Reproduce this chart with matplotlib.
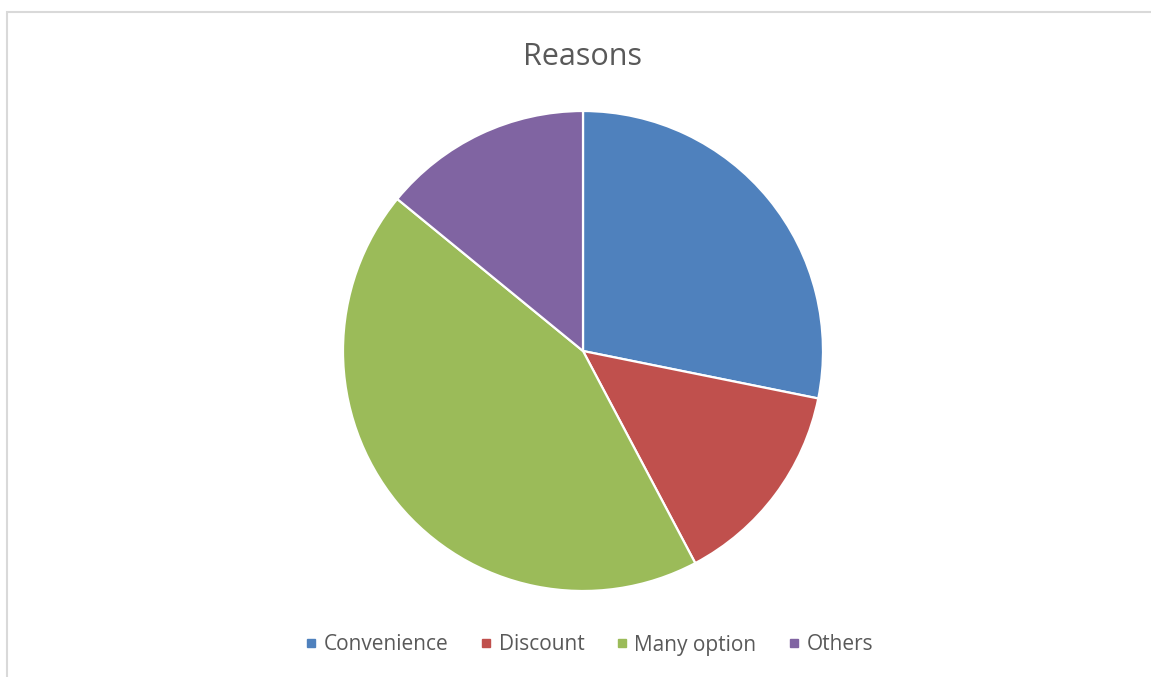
import matplotlib.pyplot as plt
from matplotlib.patches import Rectangle
from matplotlib.lines import Line2D

labels = ["Convenience", "Discount", "Many option", "Others"]
counts = [20, 10, 31, 10]
colors = ["#4F81BD", "#C0504D", "#9BBB59", "#8064A2"]

plt.rcParams['font.family'] = ['Open Sans', 'DejaVu Sans']

fig = plt.figure(figsize=(11.51, 6.77), dpi=100)
W, H = 1151, 677

# chart area border (runs off the right and bottom edges)
fig.patches.append(Rectangle((6.5 / W, -0.2), 1.2, 1.2 - 11.5 / H,
                             transform=fig.transFigure, fill=False,
                             edgecolor="#D9D9D9", linewidth=1.5))

cx, cy, r = 583, 351, 240
ax = fig.add_axes([(cx - r) / W, (H - cy - r) / H, 2 * r / W, 2 * r / H])
ax.pie(counts, colors=colors, startangle=90, counterclock=False,
       wedgeprops=dict(edgecolor="white", linewidth=1.6))
ax.set_aspect("equal")
ax.set_xlim(-1, 1)
ax.set_ylim(-1, 1)
ax.axis("off")

fig.text(cx / W, 1 - 57 / H, "Reasons", ha="center", va="center",
         fontsize=22, color="#595959")

handles = [Line2D([], [], marker="s", linestyle="none", markersize=6,
                  markerfacecolor=c, markeredgecolor=c) for c in colors]
fig.legend(handles, labels, loc="center", bbox_to_anchor=(587 / W, 1 - 645 / H),
           ncol=4, frameon=False, fontsize=15, labelcolor="#595959",
           handletextpad=0.1, columnspacing=1.3, handlelength=1.0)

fig.savefig("out.png", dpi=100)
